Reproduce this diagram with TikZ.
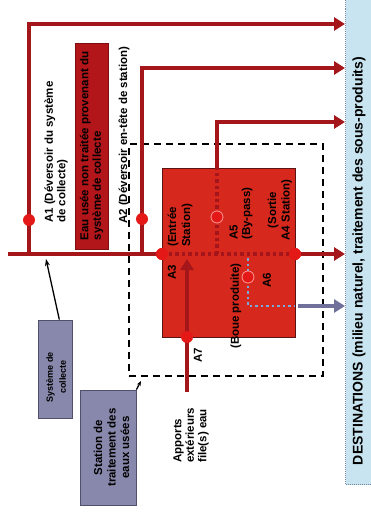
\documentclass[tikz,border=0pt]{standalone}
\usepackage{fontspec}
\setmainfont{Liberation Sans}
\usetikzlibrary{arrows.meta}
\definecolor{linered}{RGB}{165,22,26}
\definecolor{boxred}{RGB}{214,40,28}
\definecolor{boxedge}{RGB}{90,20,20}
\definecolor{dotred}{RGB}{228,24,22}
\definecolor{eaured}{RGB}{178,22,26}
\definecolor{greybox}{RGB}{136,136,172}
\definecolor{greyedge}{RGB}{80,80,105}
\definecolor{destblue}{RGB}{200,228,240}
\definecolor{destedge}{RGB}{110,135,165}
\definecolor{bluedot}{RGB}{120,170,220}
\definecolor{slatearrow}{RGB}{112,112,155}
\begin{document}
\begin{tikzpicture}[x=1pt,y=-1pt,
  redline/.style={draw=linered, line width=4.5pt},
  redarrow/.style={redline, -{Triangle[length=11pt,width=13pt]}},
  reddots/.style={draw=linered, line width=3.5pt, dash pattern=on 3.5pt off 3pt},
  bluedots/.style={draw=bluedot, line width=2.5pt, dash pattern=on 2.5pt off 3pt},
  slatearr/.style={draw=slatearrow, line width=4pt, -{Triangle[length=11pt,width=13pt]}},
  dotnode/.style={circle, fill=dotred, inner sep=0pt, minimum size=12pt},
  hollowdot/.style={circle, fill=dotred, draw=red!40!white, line width=0.8pt, inner sep=0pt, minimum size=12pt},
  lbl/.style={rotate=90, font=\bfseries\fontsize{11.5}{12.5}\selectfont, inner sep=0pt},
  greyrect/.style={draw=greyedge, fill=greybox, line width=0.8pt, inner sep=0pt},
  pointer/.style={draw=black, line width=1.3pt, -{Stealth[length=7pt,width=5pt]}}
]
\useasboundingbox (0,0) rectangle (370,516);

% destinations
\node[draw=destedge, densely dotted, line width=1pt, fill=destblue, minimum width=40pt, minimum height=489pt, anchor=north west, inner sep=0pt] (dest) at (345,-5) {};
\node[lbl, font=\bfseries\fontsize{14}{16}\selectfont] (destlbl) at (359,261) {DESTINATIONS (milieu naturel, traitement des sous-produits)};

% station boxes
\node[draw=black, line width=1.5pt, dash pattern=on 7pt off 5pt, minimum width=194pt, minimum height=232pt, anchor=north west, inner sep=0pt] (wwtp) at (128,143) {};
\node[draw=boxedge, fill=boxred, line width=1pt, minimum width=133pt, minimum height=169pt, anchor=north west, inner sep=0pt] (stbox) at (162,168) {};

% untreated water box
\node[lbl, fill=eaured, draw=eaured!70!black, line width=0.6pt, minimum width=206pt, minimum height=33pt, align=left, inner sep=2pt] (eau) at (91.5,146) {Eau usée non traitée provenant du\\système de collecte};

% coordinates
\coordinate (tstart) at (8,254);
\coordinate (a1b) at (29,254);
\coordinate (a1t) at (29,24);
\coordinate (a2b) at (142,254);
\coordinate (a2t) at (142,68);
\coordinate (a5b) at (217,254);
\coordinate (a5e) at (217,168);
\coordinate (a5t) at (217,122);
\coordinate (a6t) at (248,258);
\coordinate (a6c) at (248,306);
\coordinate (a6r) at (295,306);
\coordinate (a6s) at (298,306);
\coordinate (a7b) at (187,392);
\coordinate (a7tip) at (187,259);

\node[dotnode] (A3) at (162,254) {};
\node[dotnode] (A4) at (295,254) {};

% flows
\draw[redline] (tstart) -- (A3.center);
\draw[redarrow] (a1b) -- (a1t) -- (a1t -| dest.west);
\draw[redarrow] (a2b) -- (a2t) -- (a2t -| dest.west);
\draw[reddots] (A3.center) -- (A4.center);
\draw[reddots] (a5b) -- (a5e);
\draw[redarrow] (a5e) -- (a5t) -- (a5t -| dest.west);
\draw[redarrow] (A4.east) -- (A4 -| dest.west);
\draw[bluedots] (a6t) -- (a6c) -- (a6r);
\draw[slatearr] (a6s) -- (a6s -| dest.west);
\draw[redarrow] (a7b) -- (a7tip);

% dots
\node[dotnode] at (A3) {};
\node[dotnode] at (A4) {};
\node[dotnode] (A1) at (29,220) {};
\node[dotnode] (A2) at (142,219) {};
\node[hollowdot] (A5) at (217,217) {};
\node[hollowdot] (A6) at (248,277) {};
\node[dotnode] (A7) at (187,337) {};

% labels
\node[lbl, anchor=west, align=left] (lA1) at (56,223) {A1 (Déversoir du système\\de collecte)};
\node[lbl, anchor=west] (lA2) at (124,224) {A2 (Déversoir en-tête de station)};
\node[lbl, anchor=west, align=left, font=\bfseries\fontsize{11.5}{14}\selectfont] (lA3t) at (180,247) {(Entrée\\Station)};
\node[lbl] (lA3) at (172,272) {A3};
\node[lbl, anchor=west, align=left] (lA5) at (241,240) {A5\\(By-pass)};
\node[lbl, align=center, font=\bfseries\fontsize{11.5}{13.5}\selectfont] (lA4) at (280,210) {(Sortie\\A4 Station)};
\node[lbl] (lboue) at (236,306) {(Boue produite)};
\node[lbl] (lA6) at (267,280) {A6};
\node[lbl] (lA7) at (198,355) {A7};
\node[lbl, anchor=west, align=left] (lapp) at (191,463) {Apports\\extérieurs\\file(s) eau};

% grey boxes
\node[greyrect, minimum width=34pt, minimum height=98pt] (sysbox) at (55,369) {};
\node[lbl, font=\bfseries\fontsize{9}{13}\selectfont, align=center] (syslbl) at (56,377) {Système de\\collecte};
\node[greyrect, minimum width=56pt, minimum height=115pt] (stnbox) at (108,447.5) {};
\node[lbl, align=center, font=\bfseries\fontsize{11.5}{13.5}\selectfont] (stnlbl) at (111.5,447.5) {Station de\\traitement des\\eaux usées};

\coordinate (systip) at (46,259);
\coordinate (stntip) at (141,381);
\draw[pointer] (sysbox.85) -- (systip);
\draw[pointer, -{Stealth[length=5pt,width=4pt]}] (stnbox.north east) -- (stntip);
\end{tikzpicture}
\end{document}
